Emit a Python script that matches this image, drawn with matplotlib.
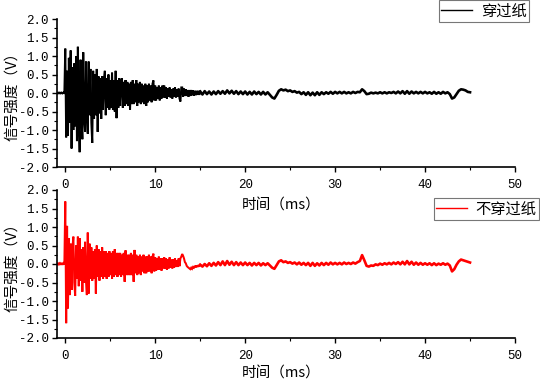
import numpy as np
import matplotlib
matplotlib.use("Agg")
import matplotlib.pyplot as plt
from matplotlib.ticker import MultipleLocator
from matplotlib.lines import Line2D

# ---------------- data ----------------
# pre-trigger segment, -1.0 ... -0.1 ms, step 0.1 ms
pre_black = [0.01, -0.01, 0.01, -0.01, 0.01, -0.01, 0.01, -0.01, 0.01, 0.00]
pre_red = [0.02, -0.02, 0.03, -0.01, 0.02, -0.02, 0.03, -0.02, 0.02, -0.01]

# burst segment, 0.0 ... 14.9 ms, step 0.1 ms
burst_black = [
    1.20, -1.20, 0.60, -1.15, 0.95, -0.80, 1.15, -1.50, 0.70, -1.00,
    0.80, -0.90, 1.00, -1.30, 1.25, -0.70, -1.60, 0.90, -0.60, -1.25,
    1.10, -0.70, -1.05, 0.85, -0.50, -1.10, 0.85, -0.60, 0.65, -0.80,
    -1.35, 0.60, -0.70, 0.50, -0.60, 0.65, -1.05, 0.45, -0.55, 0.40,
    -0.70, 0.45, -0.45, 0.35, 0.60, -0.60, 0.40, -0.40, 0.50, -0.45,
    0.35, -0.40, 0.55, -0.45, 0.35, -0.50, 0.60, -0.68, 0.35, -0.40,
    0.40, -0.35, 0.30, 0.40, -0.40, 0.30, -0.35, 0.35, -0.30, 0.30,
    -0.35, 0.25, -0.45, 0.30, -0.30, 0.35, -0.30, 0.25, -0.25, 0.35,
    -0.35, 0.25, -0.25, 0.30, -0.30, 0.25, -0.25, 0.20, -0.30, 0.25,
    -0.35, 0.20, -0.25, 0.25, -0.20, 0.20, -0.25, 0.25, 0.34, -0.20,
    0.20, -0.20, 0.15, -0.15, 0.20, -0.20, 0.15, -0.15, 0.20, -0.12,
    0.20, -0.12, 0.15, -0.15, 0.12, -0.10, 0.15, -0.12, 0.10, -0.15,
    0.12, -0.10, 0.15, -0.12, 0.10, -0.10, 0.12, -0.15, -0.23, 0.15,
    0.15, -0.10, 0.12, -0.08, 0.10, -0.08, 0.08, -0.10, 0.08, -0.08,
    0.08, -0.06, 0.07, -0.07, 0.06, -0.06, 0.06, -0.05, 0.06, -0.05,
]
burst_red = [
    1.69, -1.60, 1.03, -1.20, 0.70, -0.84, 0.55, -0.70, 0.45, 0.74,
    -0.50, -0.86, 0.50, -0.40, 0.74, -0.60, 0.70, -0.45, 0.40, -0.75,
    0.45, -0.50, 0.60, -0.45, -0.84, 0.85, -0.80, 0.55, -0.40, 0.45,
    -0.45, 0.35, -0.40, 0.40, -0.80, 0.50, -0.35, 0.40, -0.45, 0.35,
    -0.35, 0.45, -0.40, 0.35, -0.35, 0.35, -0.40, 0.30, -0.35, 0.35,
    -0.30, 0.30, -0.40, 0.35, -0.35, 0.40, -0.30, 0.30, -0.35, 0.30,
    -0.30, 0.30, -0.35, 0.25, -0.30, 0.30, -0.48, 0.37, -0.30, 0.25,
    -0.30, 0.25, -0.30, 0.30, -0.30, 0.25, -0.48, 0.38, -0.25, 0.25,
    -0.30, 0.20, -0.25, 0.25, -0.30, 0.20, -0.20, 0.25, -0.25, 0.20,
    -0.25, 0.20, -0.20, 0.25, -0.20, 0.20, -0.25, 0.20, 0.28, -0.20,
    0.18, -0.18, 0.15, -0.15, 0.20, -0.15, 0.15, -0.18, 0.15, -0.12,
    0.18, -0.12, 0.15, -0.15, 0.12, -0.12, 0.18, -0.10, 0.12, -0.12,
    0.12, -0.10, 0.15, -0.08, 0.10, -0.08, 0.15, -0.06, 0.15, 0.20,
    0.27, 0.22, 0.15, 0.05, 0.02, -0.05, -0.08, -0.10, -0.12, -0.14,
    -0.10, -0.13, -0.08, -0.10, -0.05, -0.09, -0.04, -0.08, -0.03, -0.07,
]

# tail segment, 15.0 ... 45.0 ms, step 0.25 ms
tail_black = [
    0.04, -0.04, 0.05, -0.03, 0.04, -0.04, 0.04, -0.03, 0.05, -0.02,
    0.05, -0.02, 0.07, -0.01, 0.06, -0.02, 0.05, -0.03, 0.04, -0.03,
    0.04, -0.04, 0.03, -0.04, 0.04, -0.03, 0.03, -0.04, 0.03, -0.04,
    0.02, -0.05, -0.12, -0.15, -0.05, 0.06, 0.10, 0.07, 0.09, 0.05,
    0.07, 0.03, 0.05, 0.01, 0.03, -0.03, 0.02, -0.05, 0.02, -0.06,
    0.01, -0.06, 0.02, -0.05, 0.02, -0.03, 0.02, -0.02, 0.03, -0.02,
    0.03, -0.01, 0.03, -0.01, 0.03, -0.01, 0.02, -0.01, 0.03, 0.00,
    0.03, 0.02, 0.10, 0.05, -0.03, -0.02, 0.01, -0.01, 0.01, -0.01,
    0.02, -0.01, 0.02, -0.01, 0.02, 0.00, 0.03, -0.01, 0.04, -0.01,
    0.05, -0.02, 0.05, -0.02, 0.04, -0.01, 0.03, -0.01, 0.03, -0.01,
    0.03, -0.01, 0.02, -0.02, 0.03, -0.02, 0.02, -0.02, 0.03, -0.01,
    0.02, -0.03, -0.15, -0.12, -0.03, 0.06, 0.10, 0.09, 0.07, 0.03,
    0.02,
]
tail_red = [
    -0.02, -0.07, 0.00, -0.06, 0.02, -0.05, 0.03, -0.04, 0.05, -0.03,
    0.07, -0.03, 0.08, -0.02, 0.06, -0.03, 0.05, -0.03, 0.04, -0.03,
    0.04, -0.03, 0.03, -0.04, 0.03, -0.03, 0.03, -0.04, 0.02, -0.03,
    0.02, -0.04, -0.10, -0.13, -0.03, 0.07, 0.10, 0.05, 0.07, 0.03,
    0.05, 0.01, 0.04, -0.01, 0.04, -0.02, 0.03, -0.03, 0.03, -0.05,
    0.03, -0.05, 0.02, -0.04, 0.03, -0.03, 0.03, -0.02, 0.04, -0.01,
    0.03, -0.01, 0.03, -0.01, 0.04, 0.00, 0.03, 0.00, 0.04, 0.01,
    0.05, 0.08, 0.24, 0.10, -0.05, -0.07, -0.04, -0.05, -0.01, -0.03,
    0.01, -0.02, 0.02, -0.01, 0.03, -0.01, 0.04, 0.00, 0.05, -0.01,
    0.06, -0.01, 0.08, -0.01, 0.06, -0.02, 0.04, -0.02, 0.03, -0.02,
    0.02, -0.02, 0.02, -0.03, 0.02, -0.03, 0.01, -0.02, 0.02, -0.02,
    0.01, -0.04, -0.20, -0.14, -0.02, 0.07, 0.12, 0.10, 0.08, 0.06,
    0.04,
]

labels = ["穿过纸", "不穿过纸"]
colors = ["black", "red"]
x_label = "时间（ms）"
y_label = "信号强度（V）"
x_ticks = [0, 10, 20, 30, 40, 50]
y_ticks = [-2.0, -1.5, -1.0, -0.5, 0.0, 0.5, 1.0, 1.5, 2.0]

pre_t0, pre_dt = -1.0, 0.1
burst_t0, burst_dt = 0.0, 0.1
tail_t0, tail_dt = 15.0, 0.25

series = [(pre_black, burst_black, tail_black),
          (pre_red, burst_red, tail_red)]

# ---------------- figure ----------------
plt.rcParams["font.family"] = ["Liberation Mono", "DejaVu Sans"]
plt.rcParams["axes.unicode_minus"] = False
cjk = ["Noto Sans CJK SC", "DejaVu Sans"]

fig = plt.figure(figsize=(5.40, 3.83), dpi=100)
W, H = 540, 383
ax_rects = [
    (57 / W, 1 - 167 / H, (515 - 57) / W, 148 / H),
    (57 / W, 1 - 338 / H, (515 - 57) / W, 148 / H),
]
xlabel_y = [-0.215, -0.192]
legend_anchors = [(529 / W, 1 - 0 / H), (539 / W, 1 - 198 / H)]

for i, (rect, (pre, burst, tail)) in enumerate(zip(ax_rects, series)):
    ax = fig.add_axes(rect)
    ax.set_facecolor("none")
    t_pre = pre_t0 + pre_dt * np.arange(len(pre))
    t_burst = burst_t0 + burst_dt * np.arange(len(burst))
    t_tail = tail_t0 + tail_dt * np.arange(len(tail))
    ax.plot(np.concatenate([t_pre, t_burst, t_tail[:1]]),
            np.concatenate([pre, burst, tail[:1]]),
            color=colors[i], lw=1.45, solid_joinstyle="miter")
    ax.plot(t_tail, tail, color=colors[i], lw=1.9, solid_joinstyle="round")
    ax.set_xlim(-0.92, 50)
    ax.set_ylim(-2.0, 2.0)
    ax.set_xticks(x_ticks)
    ax.set_yticks(y_ticks)
    ax.set_yticklabels([f"{y:.1f}" for y in y_ticks])
    ax.xaxis.set_minor_locator(MultipleLocator(5))
    ax.yaxis.set_minor_locator(MultipleLocator(0.25))
    ax.spines["top"].set_visible(False)
    ax.spines["right"].set_visible(False)
    for s in ("left", "bottom"):
        ax.spines[s].set_linewidth(1.2)
    ax.tick_params(which="major", direction="out", length=3.6, width=1.0,
                   labelsize=9)
    ax.tick_params(which="minor", direction="out", length=2.2, width=0.8)
    ax.tick_params(axis="x", which="major", pad=5.0)
    ax.tick_params(axis="y", which="major", pad=2.5)
    ax.set_xlabel(x_label, family=cjk, fontsize=10.5)
    ax.set_ylabel(y_label, family=cjk, fontsize=10.5)
    ax.xaxis.set_label_coords(0.49, xlabel_y[i])
    ax.yaxis.set_label_coords(-0.083, 0.5)
    ax.set_zorder(2 - i)
    handle = Line2D([], [], color=colors[i], lw=1.0)
    leg = fig.legend([handle], [labels[i]], loc="upper right",
                     bbox_to_anchor=legend_anchors[i],
                     prop={"family": cjk, "size": 11},
                     frameon=True, fancybox=False, handlelength=2.0,
                     handletextpad=0.6, borderpad=0.15, borderaxespad=0.0)
    leg.get_frame().set_edgecolor("#555555")
    leg.get_frame().set_linewidth(0.8)

fig.savefig("out.png", dpi=100)
